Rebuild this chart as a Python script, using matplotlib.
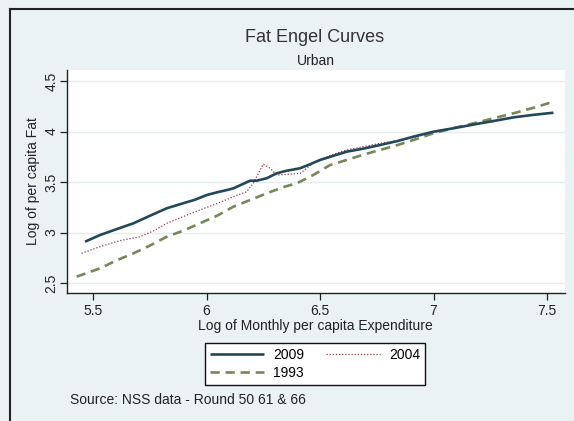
import matplotlib
matplotlib.use("Agg")
import matplotlib.pyplot as plt
from matplotlib.lines import Line2D

plt.rcParams["font.family"] = ["Liberation Sans", "DejaVu Sans"]

# Engel curve values (log expenditure vs log fat)
x_2009 = [5.465, 5.531, 5.60, 5.678, 5.75, 5.825, 5.898, 5.95, 6.001, 6.05,
          6.089, 6.118, 6.16, 6.192, 6.221, 6.265, 6.309, 6.35, 6.412, 6.45,
          6.5, 6.56, 6.617, 6.69, 6.764, 6.84, 6.911, 6.999, 7.087, 7.15,
          7.205, 7.28, 7.352, 7.44, 7.528]
y_2009 = [2.909, 2.975, 3.03, 3.091, 3.165, 3.24, 3.29, 3.325, 3.371, 3.40,
          3.42, 3.437, 3.48, 3.513, 3.513, 3.537, 3.586, 3.61, 3.636, 3.67,
          3.718, 3.76, 3.80, 3.83, 3.866, 3.905, 3.949, 3.998, 4.032, 4.058,
          4.081, 4.11, 4.14, 4.165, 4.186]

x_2004 = [5.45, 5.531, 5.62, 5.707, 5.77, 5.825, 5.90, 5.971, 6.05, 6.118,
          6.177, 6.206, 6.25, 6.28, 6.309, 6.35, 6.412, 6.47, 6.54, 6.617,
          6.69, 6.764, 6.84, 6.911, 7.0, 7.1, 7.2, 7.3]
y_2004 = [2.794, 2.86, 2.92, 2.958, 3.02, 3.091, 3.16, 3.223, 3.29, 3.354,
          3.404, 3.487, 3.678, 3.636, 3.569, 3.575, 3.586, 3.685, 3.76, 3.817,
          3.85, 3.883, 3.91, 3.94, 3.99, 4.035, 4.075, 4.12]

x_1993 = [5.428, 5.531, 5.60, 5.678, 5.75, 5.825, 5.90, 5.971, 6.05, 6.118,
          6.19, 6.265, 6.34, 6.40, 6.47, 6.544, 6.617, 6.69, 6.764, 6.84,
          6.911, 6.999, 7.10, 7.205, 7.28, 7.352, 7.44, 7.528]
y_1993 = [2.563, 2.645, 2.72, 2.794, 2.87, 2.958, 3.02, 3.091, 3.17, 3.255,
          3.32, 3.388, 3.45, 3.49, 3.569, 3.668, 3.718, 3.77, 3.817, 3.865,
          3.916, 3.982, 4.04, 4.097, 4.14, 4.18, 4.235, 4.295]

x_ticks = [5.5, 6, 6.5, 7, 7.5]
x_tick_labels = ["5.5", "6", "6.5", "7", "7.5"]
y_ticks = [2.5, 3, 3.5, 4, 4.5]
y_tick_labels = ["2.5", "3", "3.5", "4", "4.5"]

BG = "#eaf2f3"
C2009 = "#22485a"
C2004 = "#8a3a40"
C1993 = "#77875a"

W, H = 574, 421
fig = plt.figure(figsize=(W / 100, H / 100), dpi=100, facecolor=BG)

# plot region in pixel terms: x 67..565, y 70..293
ax = fig.add_axes([67 / W, 1 - 293 / H, (565 - 67) / W, (293 - 70) / H])
ax.set_facecolor("white")
ax.set_xlim(5.3855, 7.579)
ax.set_ylim(2.401, 4.609)

l09, = ax.plot(x_2009, y_2009, color=C2009, lw=1.9, solid_capstyle="butt", zorder=4)
l04, = ax.plot(x_2004, y_2004, color=C2004, lw=0.9, ls=(0, (1, 1.5)), zorder=3)
l93, = ax.plot(x_1993, y_1993, color=C1993, lw=1.9, ls=(0, (3.5, 2.2)), zorder=3)

ax.set_xticks(x_ticks, labels=x_tick_labels)
ax.set_yticks(y_ticks, labels=y_tick_labels)
ax.tick_params(axis="both", direction="out", length=5, width=0.9, labelsize=10,
               color="#222222", labelcolor="#222222")
ax.tick_params(axis="x", pad=3)
ax.tick_params(axis="y", pad=1)
for lab in ax.get_yticklabels():
    lab.set_rotation(90)
    lab.set_va("center")

ax.grid(axis="y", color="#e4ecee", lw=1.0)
ax.set_axisbelow(True)
for side in ("top", "right"):
    ax.spines[side].set_visible(False)
for side in ("left", "bottom"):
    ax.spines[side].set_color("#222222")
    ax.spines[side].set_linewidth(1.0)

# titles and axis titles
fig.text(315 / W, 1 - 37 / H, "Fat Engel Curves", ha="center", va="center",
         fontsize=13, color="#333333")
fig.text(316 / W, 1 - 61 / H, "Urban", ha="center", va="center",
         fontsize=10, color="#222222")
fig.text(315 / W, 1 - 326 / H, "Log of Monthly per capita Expenditure",
         ha="center", va="center", fontsize=10, color="#222222")
fig.text(33 / W, 1 - 181 / H, "Log of per capita Fat", ha="center", va="center",
         rotation=90, fontsize=10, color="#222222")
fig.text(70 / W, 1 - 400 / H, "Source: NSS data - Round 50 61 & 66",
         ha="left", va="center", fontsize=10, color="#222222")

leg = ax.legend([l09, l93, l04], ["2009", "1993", "2004"], ncol=2,
                loc="center", bbox_to_anchor=(315 / W, 1 - 364 / H),
                bbox_transform=fig.transFigure, fontsize=10, frameon=True,
                fancybox=False, edgecolor="#111111", facecolor="white",
                framealpha=1, handlelength=3.9, handletextpad=0.65,
                columnspacing=1.6, borderpad=0.35, labelspacing=0.25)
leg.get_frame().set_linewidth(1.0)

# screenshot border on top and left
fig.add_artist(Line2D([10 / W, 1], [1 - 9 / H, 1 - 9 / H], color="#222222", lw=1.5,
                      transform=fig.transFigure))
fig.add_artist(Line2D([10 / W, 10 / W], [0, 1 - 9 / H], color="#222222", lw=1.5,
                      transform=fig.transFigure))

fig.savefig("out.png", dpi=100, facecolor=BG)
